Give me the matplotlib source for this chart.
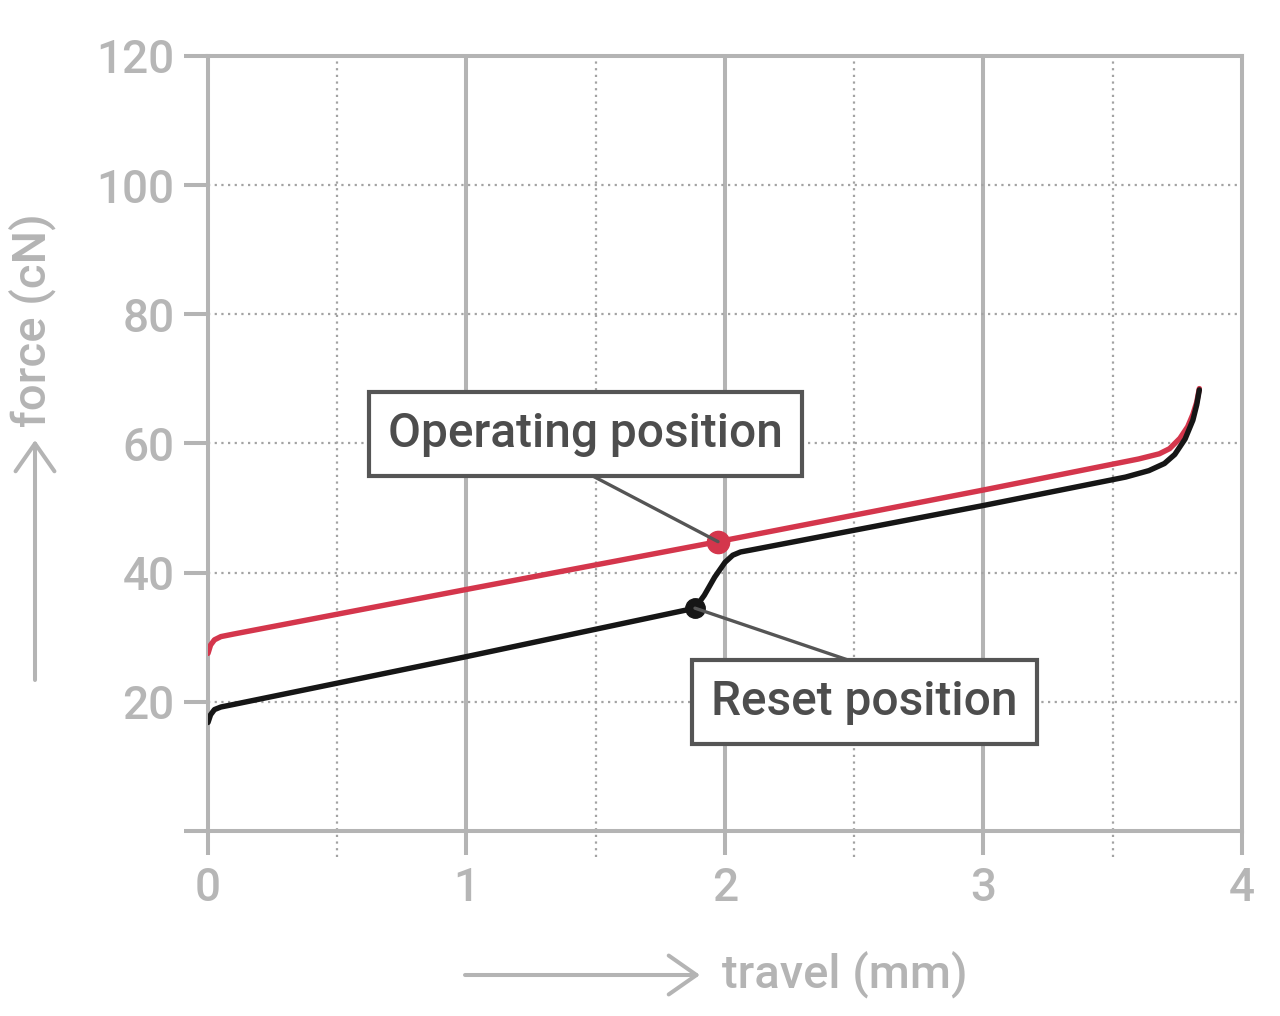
import matplotlib
matplotlib.use("Agg")
import matplotlib.pyplot as plt

# force / travel curves
travel_operating = [0, 0.01, 0.025, 0.05, 0.1, 1.0, 1.973, 3.0, 3.6, 3.68, 3.72, 3.76, 3.79, 3.81, 3.825, 3.835]
force_operating = [27.5, 28.8, 29.6, 30.1, 30.5, 37.4, 44.8, 52.8, 57.6, 58.4, 59.2, 60.8, 62.6, 64.5, 66.4, 68.5]

travel_reset = [0, 0.01, 0.025, 0.05, 0.1, 1.0, 1.884, 1.92, 1.96, 2.0, 2.03, 2.06, 2.1,
                3.0, 3.55, 3.64, 3.7, 3.74, 3.78, 3.81, 3.825, 3.835]
force_reset = [16.8, 18.0, 18.8, 19.2, 19.6, 27.0, 34.5, 36.5, 39.3, 41.6, 42.7, 43.2, 43.5,
               50.4, 54.8, 55.8, 56.9, 58.3, 60.7, 63.6, 66.0, 68.3]

operating_point = (1.973, 44.8)
reset_point = (1.884, 34.5)

x_ticks = [0, 1, 2, 3, 4]
y_ticks = [0, 20, 40, 60, 80, 100, 120]
y_labels = ["", "20", "40", "60", "80", "100", "120"]

GRID = "#b4b4b4"
DOT_GRID = "#a3a3a3"
RED = "#d4364c"
BLACK = "#161616"
BOX = "#555555"
FONT = ["Roboto", "DejaVu Sans"]

plt.rcParams["font.family"] = FONT
plt.rcParams["font.weight"] = "medium"

fig = plt.figure(figsize=(12.8, 10.16), dpi=100)
ax = fig.add_axes([0.1625, 0.1821, 0.8078, 0.7628])
ax.set_xlim(0, 4)
ax.set_ylim(0, 120)

for side in ["left", "right", "top", "bottom"]:
    ax.spines[side].set_color(GRID)
    ax.spines[side].set_linewidth(2.9)

ax.set_xticks(x_ticks)
ax.set_yticks(y_ticks)
ax.set_yticklabels(y_labels)
ax.tick_params(axis="both", length=17, width=2.9, color=GRID, labelcolor="#b6b6b6",
               labelsize=33)
ax.tick_params(axis="x", pad=8)
ax.tick_params(axis="y", pad=7)

# grid: solid at whole mm, dotted at half mm and every 20 cN
for x in [1, 2, 3]:
    ax.axvline(x, color=GRID, lw=2.9, zorder=1)
for x in [0.5, 1.5, 2.5, 3.5]:
    ax.axvline(x, ymin=-0.034, ymax=1, color=DOT_GRID, lw=1.6, ls=(0, (1, 2)),
               clip_on=False, zorder=1)
for y in [20, 40, 60, 80, 100]:
    ax.axhline(y, color=DOT_GRID, lw=1.6, ls=(0, (1, 2)), zorder=1)

ax.plot(travel_operating, force_operating, color=RED, lw=3.9,
        solid_capstyle="round", solid_joinstyle="round", zorder=3)
ax.plot(travel_reset, force_reset, color=BLACK, lw=3.9,
        solid_capstyle="round", solid_joinstyle="round", zorder=3)

ax.plot(*operating_point, "o", color=RED, ms=16, zorder=4)
ax.plot(*reset_point, "o", color=BLACK, ms=14, zorder=4)

# leader lines and label boxes
ax.annotate("", xy=operating_point, xytext=(1.458, 55.6),
            arrowprops=dict(arrowstyle="-", color=BOX, lw=2.4, shrinkA=0, shrinkB=0),
            zorder=5)
ax.annotate("", xy=reset_point, xytext=(2.522, 25.85),
            arrowprops=dict(arrowstyle="-", color=BOX, lw=2.4, shrinkA=0, shrinkB=0),
            zorder=5)

box = dict(boxstyle="square,pad=0.4", fc="white", ec=BOX, lw=3)
ax.text(1.46, 61.5, "Operating position", ha="center", va="center", fontsize=34.5,
        color="#4d4d4d", bbox=box, zorder=6)
ax.text(2.54, 20.0, "Reset position", ha="center", va="center", fontsize=34.5,
        color="#4d4d4d", bbox=box, zorder=6)

# axis titles with arrows
arrow = dict(arrowstyle="->,head_length=2.0,head_width=1.4", color=GRID, lw=2.9,
             shrinkA=0, shrinkB=0)
fig.add_artist(plt.Annotation("", xy=(700 / 1280, 1 - 975 / 1016), xytext=(465 / 1280, 1 - 975 / 1016),
                              xycoords="figure fraction", textcoords="figure fraction",
                              arrowprops=arrow))
fig.text(722 / 1280, 1 - 975 / 1016, "travel (mm)", ha="left", va="center",
         fontsize=34, color=GRID)
fig.add_artist(plt.Annotation("", xy=(35 / 1280, 1 - 440 / 1016), xytext=(35 / 1280, 1 - 680 / 1016),
                              xycoords="figure fraction", textcoords="figure fraction",
                              arrowprops=arrow))
fig.text(33 / 1280, 1 - 427 / 1016, "force (cN)", ha="center", va="bottom",
         rotation=90, fontsize=34, color=GRID)

fig.savefig("out.png", dpi=100)
